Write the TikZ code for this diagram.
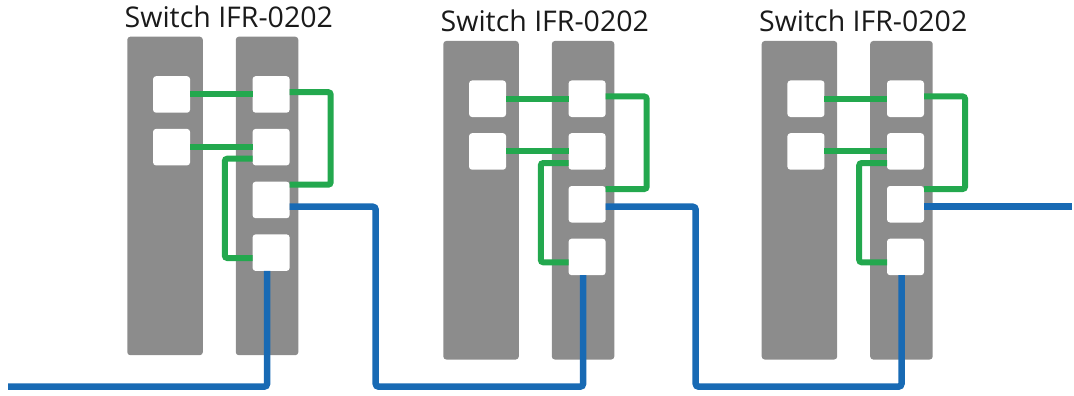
\documentclass[tikz,border=0pt]{standalone}
\usepackage{fontspec}
\setmainfont{Open Sans}
\definecolor{rackgray}{RGB}{140,140,140}
\definecolor{lgreen}{RGB}{35,168,78}
\definecolor{lblue}{RGB}{24,106,180}
\definecolor{ttext}{RGB}{26,26,26}
\tikzset{
  rackL/.style={fill=rackgray, draw=none, rounded corners=3pt, minimum width=75.5pt, minimum height=318.5pt, inner sep=0pt, outer sep=0pt},
  rackR/.style={fill=rackgray, draw=none, rounded corners=3pt, minimum width=62.5pt, minimum height=318.5pt, inner sep=0pt, outer sep=0pt},
  port/.style={fill=white, draw=none, rounded corners=3pt, minimum width=37pt, minimum height=36.5pt, inner sep=0pt, outer sep=0pt},
  swtitle/.style={font=\fontsize{28.5}{32}\selectfont, text=ttext, inner sep=0pt, anchor=base},
  gline/.style={draw=lgreen, line width=6pt, rounded corners=2.5pt},
  bline/.style={draw=lblue, line width=6.5pt, rounded corners=3pt}
}
\newcommand\drawswitch[3]{%
  \begin{scope}[shift={(#2,#3)}]
    \node[rackL] (#1L) at (37.75,159.25) {};
    \node[rackR] (#1R) at (139.75,159.25) {};
    \node[swtitle] (#1T) at (101.5,-9.5) {Switch IFR-0202};
    \node[port] (#1a) at (44.25,57.75) {};
    \node[port] (#1b) at (44.25,110.45) {};
    \node[port] (#1p1) at (143.8,57.75) {};
    \node[port] (#1p2) at (143.8,110.45) {};
    \node[port] (#1p3) at (143.8,163.25) {};
    \node[port] (#1p4) at (143.8,215.95) {};
    \coordinate (#1rb) at (203.4,148);
    \coordinate (#1lb) at (97.5,221.3);
  \end{scope}
  \draw[gline] (#1a) -- (#1p1);
  \draw[gline] (#1b) -- (#1p2);
  \draw[gline] ([yshift=2.3pt]#1p1.east) -| (#1rb) -- ([yshift=15.25pt]#1p3.east);
  \draw[gline] ([yshift=-11.55pt]#1p2.west) -| (#1lb) -- ([yshift=-5.35pt]#1p4.west);
}
\begin{document}
\begin{tikzpicture}[x=1pt,y=-1pt]
  \useasboundingbox (0,0) rectangle (1074,396);
  \drawswitch{sa}{127.3}{36.7}
  \drawswitch{sb}{443.3}{41}
  \drawswitch{sc}{761.7}{41}
  \coordinate (bL) at (8,386.7);
  \coordinate (b1) at (375.7,206.7);
  \coordinate (b2) at (695.7,206.7);
  \coordinate (bR) at (1071.5,206.7);
  \draw[bline] (bL) -| ([xshift=-4pt]sap4.south);
  \draw[bline] (sap3.east |- b1) -- (b1) -- (b1 |- bL) -| ([xshift=-4pt]sbp4.south);
  \draw[bline] (sbp3.east |- b2) -- (b2) -- (b2 |- bL) -| ([xshift=-4pt]scp4.south);
  \draw[bline] (scp3.east |- bR) -- (bR);
\end{tikzpicture}
\end{document}
